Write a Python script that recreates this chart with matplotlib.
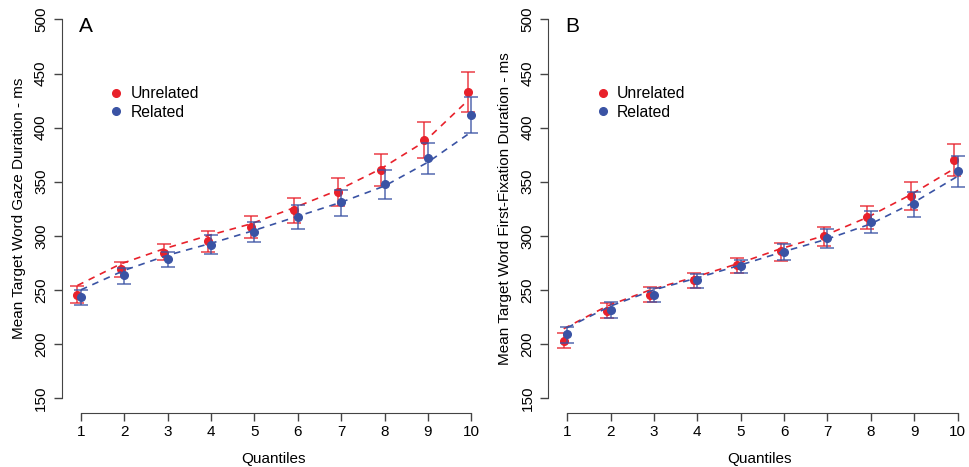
import numpy as np
import matplotlib.pyplot as plt

plt.rcParams['font.family'] = ['Liberation Sans', 'DejaVu Sans']

quantiles = np.arange(1, 11)

# Panel A: gaze duration (ms)
gaze_unrel = [245.5, 269, 284.4, 295.2, 307.8, 323.6, 340.5, 360.8, 388.9, 432.7]
gaze_unrel_lo = [237.6, 261.6, 277.6, 285.3, 297.6, 311.5, 327.5, 346.3, 372.2, 414.2]
gaze_unrel_hi = [253.3, 276, 292.7, 304.1, 318.3, 334.7, 353.7, 375.4, 405.5, 451.2]
gaze_rel = [243.1, 263.7, 278.3, 291.5, 303.5, 317.1, 331, 347.6, 371.6, 411.7]
gaze_rel_lo = [236, 255.4, 270.8, 283.2, 294, 306.3, 318.3, 333.7, 357.4, 395.3]
gaze_rel_hi = [249.9, 270.5, 285.3, 300.5, 313, 328.2, 342.3, 360.8, 386.2, 428]
gaze_fit_unrel = [254, 274, 288, 300, 311, 326, 342, 362, 387, 425]
gaze_fit_rel = [250, 268, 282, 293, 305, 318, 331, 346, 368, 396]

# Panel B: first-fixation duration (ms)
ffd_unrel = [203, 230.7, 245.2, 259.1, 273, 286.2, 299.8, 316.9, 336.6, 370.1]
ffd_unrel_lo = [196.5, 223.8, 238.5, 252, 265.9, 277, 290.2, 306.3, 323.8, 355]
ffd_unrel_hi = [210.4, 237.6, 252.3, 265.9, 279.8, 293.6, 308.4, 327.8, 350, 384.9]
ffd_rel = [208.9, 231.4, 245.2, 259, 272, 284.7, 297.6, 312.7, 329.4, 359.6]
ffd_rel_lo = [200.5, 224, 238.5, 252, 265.5, 277.6, 289, 302.2, 317.6, 345.4]
ffd_rel_hi = [215.9, 238.5, 251.7, 265, 278, 292.1, 306.5, 323.2, 340.8, 373.8]
ffd_fit_unrel = [214, 235, 250, 261.5, 274, 288, 300, 317, 338, 362]
ffd_fit_rel = [215, 235, 250, 261, 273, 285.5, 297, 311, 331, 355]

RED = '#E8212B'
BLUE = '#3A53A4'
W, H = 969, 467


def panel(left_px, letter, ylabel, unrel, unrel_lo, unrel_hi, rel, rel_lo, rel_hi,
          fit_unrel, fit_rel):
    xlim = (0.565, 10.3)
    ylim = (136.1, 514)
    px_x, px_y = 43.38, 1.0814
    width = (xlim[1] - xlim[0]) * px_x
    height = (ylim[1] - ylim[0]) * px_y
    ax = plt.gcf().add_axes([left_px / W, (H - 413) / H, width / W, height / H])
    ax.set_xlim(*xlim)
    ax.set_ylim(*ylim)

    xr = quantiles - 0.08
    for x, m, lo, hi, fit, c, lab in [
            (xr, unrel, unrel_lo, unrel_hi, fit_unrel, RED, 'Unrelated'),
            (quantiles, rel, rel_lo, rel_hi, fit_rel, BLUE, 'Related')]:
        m = np.array(m)
        yerr = [m - np.array(lo), np.array(hi) - m]
        ax.errorbar(x, m, yerr=yerr, fmt='none', ecolor=c, elinewidth=1.2,
                    capsize=5, capthick=1.2, alpha=0.8)
        ax.plot(x, fit, ls=(0, (4, 3.5)), color=c, lw=1.2)
        ax.plot(x, m, 'o', color=c, ms=5.5, label=lab)

    for s in ['top', 'right']:
        ax.spines[s].set_visible(False)
    for s in ['left', 'bottom']:
        ax.spines[s].set_color('#444444')
    ax.spines['left'].set_bounds(150, 500)
    ax.spines['bottom'].set_bounds(1, 10)
    ax.set_xticks(quantiles)
    ax.set_yticks(np.arange(150, 501, 50))
    ax.tick_params(direction='out', length=6, width=1, color='#444444', labelsize=11)
    ax.tick_params(axis='y', labelrotation=90, pad=4)
    for t in ax.get_yticklabels():
        t.set_va('center')
    ax.tick_params(axis='x', pad=3)
    ax.set_xlabel('Quantiles', fontsize=11, labelpad=9)
    ax.set_ylabel(ylabel, fontsize=11, labelpad=6)

    ax.legend(loc='upper left', bbox_to_anchor=((left_px + 46.4) / W, 1 - 86 / H),
              bbox_transform=plt.gcf().transFigure, frameon=False, fontsize=11.3,
              handlelength=1, handletextpad=0.4, labelspacing=0.23, borderpad=0,
              borderaxespad=0)
    plt.gcf().text((left_px + 24) / W, 1 - 27 / H, letter, fontsize=15,
                   ha='center', va='center')
    return ax


fig = plt.figure(figsize=(W / 100, H / 100), dpi=100)
panel(62, 'A', 'Mean Target Word Gaze Duration - ms',
      gaze_unrel, gaze_unrel_lo, gaze_unrel_hi, gaze_rel, gaze_rel_lo, gaze_rel_hi,
      gaze_fit_unrel, gaze_fit_rel)
panel(548.3, 'B', 'Mean Target Word First-Fixation Duration - ms',
      ffd_unrel, ffd_unrel_lo, ffd_unrel_hi, ffd_rel, ffd_rel_lo, ffd_rel_hi,
      ffd_fit_unrel, ffd_fit_rel)
fig.savefig('out.png', dpi=100)
